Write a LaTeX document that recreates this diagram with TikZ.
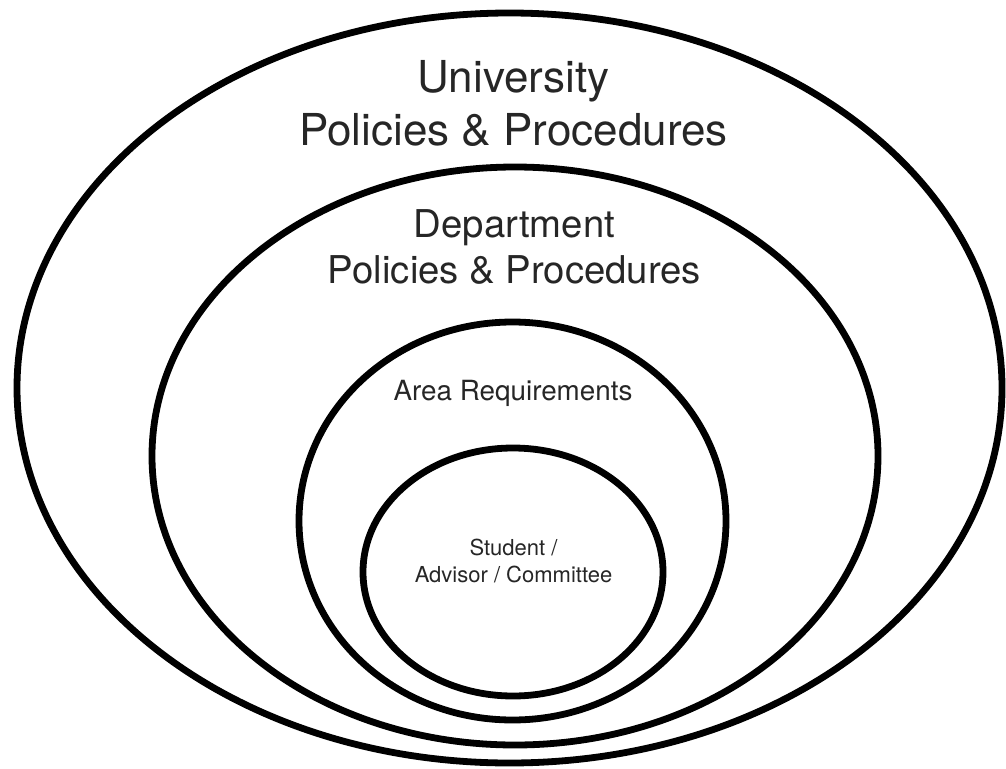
\documentclass[tikz,border=0pt]{standalone}
\usepackage{fontspec}
\setmainfont{TeX Gyre Heros}
\begin{document}
\begin{tikzpicture}[x=1pt,y=-1pt,
  ring/.style={line width=6.8pt, draw=black},
  lbl/.style={align=center, anchor=base, inner sep=0pt, text=black!85}]
\useasboundingbox (0,0) rectangle (1006,768);
\draw[ring] (509.5,388) ellipse [x radius=492.5, y radius=375];
\draw[ring] (515,456) ellipse [x radius=363, y radius=289];
\draw[ring] (512.5,521) ellipse [x radius=213.5, y radius=199];
\draw[ring] (513,572) ellipse [x radius=150, y radius=124];
\node[lbl, font=\fontsize{44}{53}\selectfont] (uni) at (513.5,145) {University\\Policies \& Procedures};
\node[lbl, font=\fontsize{38.3}{46}\selectfont] (dept) at (514.5,283) {Department\\Policies \& Procedures};
\node[lbl, font=\fontsize{27.8}{33}\selectfont] (area) at (513,400) {Area Requirements};
\node[lbl, font=\fontsize{22}{27}\selectfont] (stud) at (513.5,582) {Student /\\Advisor / Committee};
\end{tikzpicture}
\end{document}
